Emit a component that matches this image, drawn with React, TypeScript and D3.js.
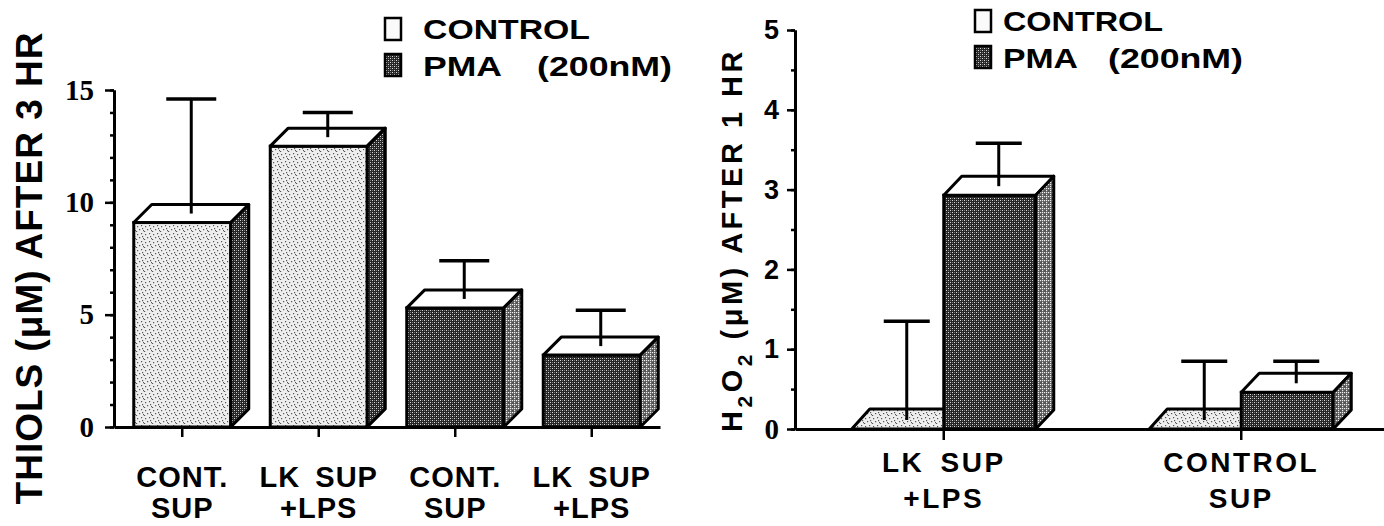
import * as React from 'react';
import { useEffect, useRef } from 'react';
import * as d3 from 'd3';

// left panel: thiols after 3 hr
const thiolLabels = [['CONT.', 'SUP'], ['LK SUP', '+LPS'], ['CONT.', 'SUP'], ['LK SUP', '+LPS']];
const thiolSeries = ['CONTROL', 'CONTROL', 'PMA', 'PMA'];
const thiolValues = [9.1, 12.5, 5.3, 3.2];
const thiolErrors = [5.5, 1.5, 2.1, 2.0];
const thiolTicks = [0, 5, 10, 15];

// right panel: H2O2 after 1 hr
const h2o2Labels = [['LK SUP', '+LPS'], ['CONTROL', 'SUP']];
const h2o2Control = [0, 0];
const h2o2ControlErr = [1.35, 0.85];
const h2o2Pma = [2.93, 0.46];
const h2o2PmaErr = [0.65, 0.39];
const h2o2Ticks = [0, 1, 2, 3, 4, 5];

const legendNames = ['CONTROL', 'PMA'];
const legendNote = '(200nM)';

const SANS = '"Liberation Sans", Arial, Helvetica, sans-serif';
const SERIF = '"Liberation Serif", "Times New Roman", serif';

type G = d3.Selection<SVGGElement, unknown, null, undefined>;

function drawBox(g: G, x0: number, w: number, yTop: number, yBase: number, dx: number, dy: number,
    front: string, top: string, side: string) {
    if (yBase - yTop > 0.5) {
        g.append('rect')
            .attr('x', x0).attr('y', yTop)
            .attr('width', w).attr('height', yBase - yTop)
            .attr('fill', front).attr('stroke', '#000').attr('stroke-width', 3);
    }
    g.append('path')
        .attr('d', `M${x0},${yTop}L${x0 + dx},${yTop - dy}L${x0 + w + dx},${yTop - dy}L${x0 + w},${yTop}Z`)
        .attr('fill', top).attr('stroke', '#000').attr('stroke-width', 3).attr('stroke-linejoin', 'round');
    g.append('path')
        .attr('d', `M${x0 + w},${yTop}L${x0 + w + dx},${yTop - dy}L${x0 + w + dx},${yBase - dy}L${x0 + w},${yBase}Z`)
        .attr('fill', side).attr('stroke', '#000').attr('stroke-width', 3).attr('stroke-linejoin', 'round');
}

function drawError(g: G, cx: number, yFrom: number, yTo: number, cap: number) {
    g.append('line')
        .attr('x1', cx).attr('x2', cx).attr('y1', yFrom).attr('y2', yTo)
        .attr('stroke', '#000').attr('stroke-width', 3);
    g.append('line')
        .attr('x1', cx - cap / 2).attr('x2', cx + cap / 2).attr('y1', yTo).attr('y2', yTo)
        .attr('stroke', '#000').attr('stroke-width', 3.5);
}

function styleAxis(a: G, font: string, size: number) {
    a.select('.domain').attr('stroke', '#000').attr('stroke-width', 3);
    a.selectAll('.tick line').attr('stroke', '#000').attr('stroke-width', 2.5);
    a.selectAll('.tick text')
        .attr('fill', '#000')
        .attr('font-family', font)
        .attr('font-size', size)
        .attr('font-weight', 700);
}

export default function App() {
    const svgRef = useRef<SVGSVGElement>(null);

    useEffect(() => {
        if (!svgRef.current) return;
        const svg = d3.select(svgRef.current);
        svg.selectAll('*').remove();

        // fills that imitate the printed screens
        const defs = svg.append('defs');
        const stip = defs.append('pattern').attr('id', 'stip').attr('patternUnits', 'userSpaceOnUse')
            .attr('width', 8).attr('height', 8);
        stip.append('rect').attr('width', 8).attr('height', 8).attr('fill', '#eeeeee');
        [[1, 2], [5, 1], [3, 5], [7, 6], [6, 4], [0, 7]].forEach(([x, y]) =>
            stip.append('rect').attr('x', x).attr('y', y).attr('width', 1.2).attr('height', 1.2).attr('fill', '#555'));

        const hatch = defs.append('pattern').attr('id', 'hatch').attr('patternUnits', 'userSpaceOnUse')
            .attr('width', 4).attr('height', 4);
        hatch.append('rect').attr('width', 4).attr('height', 4).attr('fill', '#262626');
        [[0, 0], [2, 2]].forEach(([x, y]) =>
            hatch.append('rect').attr('x', x).attr('y', y).attr('width', 1).attr('height', 1).attr('fill', '#d8d8d8'));
        [[2, 0], [0, 2]].forEach(([x, y]) =>
            hatch.append('rect').attr('x', x).attr('y', y).attr('width', 1).attr('height', 1).attr('fill', '#777'));

        const hatchSide = defs.append('pattern').attr('id', 'hatchSide').attr('patternUnits', 'userSpaceOnUse')
            .attr('width', 4).attr('height', 4);
        hatchSide.append('rect').attr('width', 4).attr('height', 4).attr('fill', '#555');
        [[0, 0], [2, 2], [2, 0]].forEach(([x, y]) =>
            hatchSide.append('rect').attr('x', x).attr('y', y).attr('width', 1.2).attr('height', 1.2).attr('fill', '#eee'));

        const fills: Record<string, { front: string; side: string }> = {
            CONTROL: { front: 'url(#stip)', side: 'url(#hatch)' },
            PMA: { front: 'url(#hatch)', side: 'url(#hatchSide)' },
        };

        const dx = 18, dy = 18;

        // ---------- left panel ----------
        const yL = d3.scaleLinear().domain([0, 15]).range([427, 90]);
        const xL = d3.scaleBand<string>()
            .domain(thiolValues.map((_, i) => String(i)))
            .range([114, 660])
            .padding(0);
        const wL = 97;

        const left = svg.append('g');

        const minorL = left.append('g').attr('transform', 'translate(114,0)')
            .call(d3.axisLeft(yL).tickValues(d3.range(0, 16)).tickSize(4).tickSizeOuter(0).tickFormat(() => ''));
        styleAxis(minorL, SERIF, 28);
        const axL = left.append('g').attr('transform', 'translate(114,0)')
            .call(d3.axisLeft(yL).tickValues(thiolTicks).tickSize(9).tickSizeOuter(0).tickPadding(11)
                .tickFormat(d3.format('d')));
        styleAxis(axL, SERIF, 29);

        const axXL = left.append('g').attr('transform', `translate(0,${yL(0)})`)
            .call(d3.axisBottom(xL).tickSize(10).tickSizeOuter(0).tickFormat(() => ''));
        styleAxis(axXL, SANS, 28);

        thiolValues.forEach((v, i) => {
            const c = (xL(String(i)) as number) + xL.bandwidth() / 2;
            const x0 = c - wL / 2;
            const f = fills[thiolSeries[i]];
            drawBox(left, x0, wL, yL(v), yL(0), dx, dy, f.front, '#fff', f.side);
            drawError(left, x0 + wL / 2 + dx / 2, yL(v) - dy / 2, yL(v + thiolErrors[i]), 50);
        });

        thiolLabels.forEach((lines, i) => {
            const c = (xL(String(i)) as number) + xL.bandwidth() / 2;
            const t = left.append('text')
                .attr('text-anchor', 'middle')
                .attr('font-family', SANS).attr('font-weight', 700).attr('font-size', 29)
                .attr('letter-spacing', 1).attr('word-spacing', 6);
            lines.forEach((s, k) => t.append('tspan').attr('x', c).attr('y', 487 + k * 31).text(s));
        });

        left.append('text')
            .attr('transform', 'translate(42,268) rotate(-90)')
            .attr('text-anchor', 'middle')
            .attr('font-family', SANS).attr('font-weight', 700).attr('font-size', 37)
            .attr('letter-spacing', 1)
            .text('THIOLS (μM) AFTER 3 HR');

        // ---------- right panel ----------
        const yR = d3.scaleLinear().domain([0, 5]).range([429, 30]);
        const xR = d3.scaleBand<string>()
            .domain(h2o2Labels.map((_, i) => String(i)))
            .range([795, 1390])
            .padding(0);
        const wR = 92;

        const right = svg.append('g');

        const minorR = right.append('g').attr('transform', 'translate(795,0)')
            .call(d3.axisLeft(yR).tickValues(d3.range(0, 5.01, 0.5)).tickSize(4).tickSizeOuter(0).tickFormat(() => ''));
        styleAxis(minorR, SANS, 26);
        const axR = right.append('g').attr('transform', 'translate(795,0)')
            .call(d3.axisLeft(yR).tickValues(h2o2Ticks).tickSize(8).tickSizeOuter(0).tickPadding(8)
                .tickFormat(d3.format('d')));
        styleAxis(axR, SANS, 27);
        axR.selectAll<SVGTextElement, number>('.tick text')
            .filter(d => d === 0)
            .attr('font-family', SERIF).attr('font-size', 29);

        const axXR = right.append('g').attr('transform', `translate(0,${yR(0)})`)
            .call(d3.axisBottom(xR).tickSize(11).tickSizeOuter(0).tickFormat(() => ''));
        styleAxis(axXR, SANS, 28);

        h2o2Labels.forEach((lines, i) => {
            const c = (xR(String(i)) as number) + xR.bandwidth() / 2;
            // control bar sits left of the tick, PMA bar right of it
            const cv = h2o2Control[i];
            drawBox(right, c - wR, wR, yR(cv), yR(0), dx, dy + 2,
                fills.CONTROL.front, cv > 0.1 ? '#fff' : fills.CONTROL.front, fills.CONTROL.side);
            drawError(right, c - wR / 2 + dx / 2, yR(cv) - dy / 2, yR(cv + h2o2ControlErr[i]), 46);

            const pv = h2o2Pma[i];
            drawBox(right, c, wR, yR(pv), yR(0), dx, dy + 1, fills.PMA.front, '#fff', fills.PMA.side);
            drawError(right, c + wR / 2 + dx / 2, yR(pv) - dy / 2, yR(pv + h2o2PmaErr[i]), 46);

            const t = right.append('text')
                .attr('text-anchor', 'middle')
                .attr('font-family', SANS).attr('font-weight', 700).attr('font-size', 28)
                .attr('letter-spacing', 2.5).attr('word-spacing', 6);
            lines.forEach((s, k) => t.append('tspan').attr('x', c).attr('y', 472 + k * 36).text(s));
        });

        const tR = right.append('text')
            .attr('transform', 'translate(742,240) rotate(-90)')
            .attr('text-anchor', 'middle')
            .attr('font-family', SANS).attr('font-weight', 700).attr('font-size', 29)
            .attr('letter-spacing', 3.5);
        tR.append('tspan').text('H');
        tR.append('tspan').attr('dy', 10).attr('font-size', 21).text('2');
        tR.append('tspan').attr('dy', -10).text('O');
        tR.append('tspan').attr('dy', 10).attr('font-size', 21).text('2');
        tR.append('tspan').attr('dy', -10).text(' (μM) AFTER 1 HR');

        // ---------- legends ----------
        const legends = [
            { x: 385, y: 18, tx: 423, base: 39, noteX: 537, w: [167, 79, 135] },
            { x: 975, y: 10, tx: 1003, base: 31, noteX: 1108, w: [160, 75, 135] },
        ];
        legends.forEach(L => {
            legendNames.forEach((name, k) => {
                const by = L.y + k * 36;
                svg.append('rect')
                    .attr('x', L.x).attr('y', by).attr('width', 16).attr('height', 22)
                    .attr('fill', k === 0 ? '#fafafa' : fills.PMA.front)
                    .attr('stroke', '#000').attr('stroke-width', 2.5);
                svg.append('text')
                    .attr('x', L.tx).attr('y', L.base + k * 37)
                    .attr('font-family', SANS).attr('font-weight', 700).attr('font-size', 28)
                    .attr('textLength', L.w[k]).attr('lengthAdjust', 'spacingAndGlyphs')
                    .text(name);
                if (k === 1) {
                    svg.append('text')
                        .attr('x', L.noteX).attr('y', L.base + k * 37)
                        .attr('font-family', SANS).attr('font-weight', 700).attr('font-size', 28)
                        .attr('textLength', L.w[2]).attr('lengthAdjust', 'spacingAndGlyphs')
                        .text(legendNote);
                }
            });
        });
    }, []);

    return (
        <svg
            ref={svgRef}
            width={1384}
            height={526}
            style={{ position: 'absolute', left: 0, top: 0, background: '#fff' }}
        />
    );
}
